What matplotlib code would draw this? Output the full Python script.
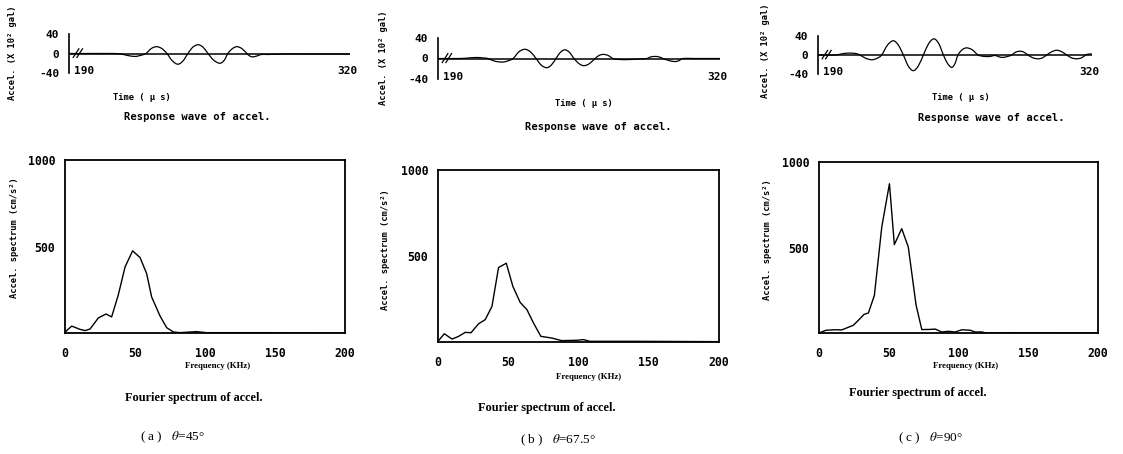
import matplotlib
matplotlib.use("Agg")
import matplotlib.pyplot as plt
from matplotlib.path import Path
from matplotlib.patches import PathPatch

W, H = 1123, 454

# ---------------- data ----------------
# response waves (time in us, accel in x10^2 gal)
wave_a_t = [190, 200, 210, 214, 217, 220.5, 223, 225.6, 228, 230.5, 233, 235.3, 237.8, 240.4,
            242.8, 245, 247.3, 249.7, 252, 254.3, 257, 259.8, 261.8, 263.5, 265.6, 267.7, 270,
            272.3, 273.6, 275, 277, 279, 282, 290, 300, 320]
wave_a_v = [0, 0, 0, -1, -4, -6, -4, 0, 10, 14, 10, 0, -15, -22,
            -15, 0, 13, 18, 13, 0, -14, -20, -14, 0, 10, 14, 10,
            0, -5, -7, -5, -2, -2, -1, -1, -1]

wave_b_t = [190, 200, 204, 207.8, 211, 213, 216, 219.4, 222, 224.6, 227.3, 230, 232.6, 235.2,
            237.6, 240.1, 242.2, 244.4, 246.4, 248.5, 250.6, 252.7, 255, 257.3, 259.8, 262.4,
            264.3, 266.2, 268.4, 270.7, 274, 278.5, 283, 286.2, 288, 290, 292, 293.7, 296.5,
            299.3, 301.2, 303, 308, 320]
wave_b_v = [0, 0, 1, 2, 1, 0, -5, -7, -5, 0, 13, 18, 13, 0,
            -13, -18, -13, 0, 12, 17, 12, 0, -10, -14, -10, 0,
            6, 8, 6, 0, -2, -2, -1, 0, 3, 4, 3, 0, -4,
            -6, -4, 0, 0, 0]

wave_c_t = [190, 198, 202, 205.2, 208, 209.9, 212.7, 215.5, 218, 220.2, 223, 225.7, 228.1, 230.5,
            232.8, 235.2, 237.6, 240, 242.5, 245, 247.3, 249.5, 251.5, 253.4, 255, 256.4, 258.4,
            260.5, 263.2, 266, 269, 271.6, 274, 276, 277.8, 280, 281.9, 283.8, 285.8, 287.7,
            289.6, 292, 294.4, 296.5, 298.5, 301, 303.3, 305.6, 308, 310.3, 312.7, 315, 317,
            318.5, 320]
wave_c_v = [0, 0, 3, 4, 3, 0, -7, -10, -7, 0, 21, 30, 21, 0,
            -23, -33, -23, 0, 24, 34, 24, 0, -18, -26, -18, 0, 11,
            15, 11, 0, -3, -3, -1, -4, -5, -3, 0, 6, 8, 6,
            0, -6, -8, -6, 0, 7, 10, 7, 0, -6, -8, -6, 0,
            2, 2]

# Fourier spectra (frequency KHz, spectrum cm/s2)
spec_a_f = [0, 4.8, 10.7, 14.3, 17.9, 23.8, 29.3, 33.3, 38, 42.9, 48.3, 53.6, 58.3, 61.9,
            67.9, 72.6, 77.4, 82, 94, 101, 144, 200]
spec_a_v = [5, 40, 21, 14, 23, 87, 110, 93, 218, 382, 475, 436, 344, 208,
            98, 31, 6, 2, 8, 2, 2, 0]

spec_b_f = [0, 4.5, 10, 14.7, 19.4, 23.5, 28.9, 33.6, 38.4, 43.1, 48.6, 53.3, 58.5, 63.3,
            68, 73.2, 81, 88, 98.8, 103.6, 108, 141.5, 200]
spec_b_v = [4, 48, 17, 33, 56, 54, 106, 130, 207, 433, 458, 323, 230, 188,
            110, 33, 23, 8, 10, 14, 4, 4, 2]

spec_c_f = [0, 5, 11.5, 16.3, 24.6, 29.4, 32.3, 35.4, 39.7, 45, 50.5, 54, 59.3, 64,
            69.6, 73.7, 79.7, 83.3, 88, 92.8, 97.6, 102.4, 108.4, 112, 116.7, 120, 134.7, 200]
spec_c_v = [0, 16, 19, 18, 45, 84, 109, 117, 220, 620, 873, 517, 610, 503,
            162, 20, 21, 23, 6, 10, 6, 19, 16, 6, 6, 0, 2, 0]

wave_ticks = [-40, 0, 40]
time_ticks = [190, 320]
spec_yticks = [500, 1000]
spec_xticks = [0, 50, 100, 150, 200]
panel_ids = ["a", "b", "c"]
panel_angles = ["45", "67.5", "90"]

# ---------------- layout ----------------
plt.rcParams["mathtext.fontset"] = "stix"
fig = plt.figure(figsize=(W / 100, H / 100), dpi=100)
fig.patch.set_facecolor("white")

MONO = "DejaVu Sans Mono"
SERIF = "Liberation Serif"


def axes_px(l, t, r, b):
    return fig.add_axes([l / W, 1 - b / H, (r - l) / W, (b - t) / H])


def ftext(x, y, s, **kw):
    fig.text(x / W, 1 - y / H, s, **kw)


def smooth_line(ax, xs, ys, **kw):
    """Draw a smooth curve passing through every data point (Catmull-Rom rendered as Bezier)."""
    n = len(xs)
    verts = [(xs[0], ys[0])]
    codes = [Path.MOVETO]
    for i in range(n - 1):
        x0, y0 = (xs[i - 1], ys[i - 1]) if i > 0 else (xs[i], ys[i])
        x1, y1 = xs[i], ys[i]
        x2, y2 = xs[i + 1], ys[i + 1]
        x3, y3 = (xs[i + 2], ys[i + 2]) if i + 2 < n else (x2, y2)
        c1 = (x1 + (x2 - x0) / 6.0, y1 + (y2 - y0) / 6.0)
        c2 = (x2 - (x3 - x1) / 6.0, y2 - (y3 - y1) / 6.0)
        verts += [c1, c2, (x2, y2)]
        codes += [Path.CURVE4] * 3
    ax.add_patch(PathPatch(Path(verts, codes), fill=False, transform=ax.transData, **kw))


panels = [
    dict(top=(69, 34, 350, 73), bot=(65, 160, 345, 333),
         wt=wave_a_t, wv=wave_a_v, sf=spec_a_f, sv=spec_a_v,
         ylab_top=(13, 53), time=(142, 98), resp=(197, 117),
         ylab_bot=(15, 238), freq=(218, 366), four=(194, 398), cap=(172, 437)),
    dict(top=(438, 38, 720, 79), bot=(438, 170, 719, 342),
         wt=wave_b_t, wv=wave_b_v, sf=spec_b_f, sv=spec_b_v,
         ylab_top=(383, 58), time=(584, 103), resp=(598, 127),
         ylab_bot=(386, 250), freq=(589, 377), four=(547, 408), cap=(558, 440)),
    dict(top=(818, 36, 1092, 74), bot=(819, 162, 1098, 333),
         wt=wave_c_t, wv=wave_c_v, sf=spec_c_f, sv=spec_c_v,
         ylab_top=(765, 51), time=(961, 97), resp=(991, 118),
         ylab_bot=(767, 240), freq=(966, 366), four=(918, 393), cap=(930, 438)),
]

for p, pid, ang in zip(panels, panel_ids, panel_angles):
    l, t, r, b = p["top"]
    # ---- response wave ----
    ax = axes_px(l, t, r, b)
    smooth_line(ax, p["wt"], p["wv"], color="black", lw=0.9)
    ax.axhline(0, color="black", lw=1.1)
    ax.set_xlim(190, 320)
    ax.set_ylim(-40, 40)
    for s in ["top", "right", "bottom"]:
        ax.spines[s].set_visible(False)
    ax.spines["left"].set_linewidth(1.2)
    ax.set_yticks(wave_ticks)
    ax.set_yticklabels([str(v) for v in wave_ticks], family=MONO, fontweight="bold", fontsize=8)
    ax.tick_params(axis="y", length=0, pad=7)
    ax.set_xticks([])
    # start / end time labels
    ftext(l + 5, b - 2, str(time_ticks[0]), ha="left", va="center",
          family=MONO, fontweight="bold", fontsize=8)
    ftext(r - 3, b - 2, str(time_ticks[1]), ha="center", va="center",
          family=MONO, fontweight="bold", fontsize=8)
    # axis break mark
    for dx in (0.025, 0.038):
        ax.plot([dx - 0.01, dx + 0.01], [0.4, 0.62], transform=ax.transAxes,
                color="black", lw=0.9, clip_on=False)
    ax.patch.set_alpha(0)

    ftext(*p["ylab_top"], "Accel. (X 10\u00b2 gal)", rotation=90, ha="center", va="center",
          family=MONO, fontweight="bold", fontsize=6.3)
    ftext(*p["time"], "Time ( \u03bc s)", ha="center", va="center",
          family=MONO, fontweight="bold", fontsize=6.3)
    ftext(*p["resp"], "Response wave of accel.", ha="center", va="center",
          family=MONO, fontweight="bold", fontsize=7.6)

    # ---- spectrum ----
    bx = axes_px(*p["bot"])
    bx.plot(p["sf"], p["sv"], color="black", lw=1.0)
    bx.set_xlim(0, 200)
    bx.set_ylim(0, 1000)
    for s in bx.spines.values():
        s.set_linewidth(1.3)
    bx.set_yticks(spec_yticks)
    bx.set_yticklabels([str(v) for v in spec_yticks], family=MONO, fontweight="bold", fontsize=8.3)
    bx.set_xticks(spec_xticks)
    bx.set_xticklabels([str(v) for v in spec_xticks], family=MONO, fontweight="bold", fontsize=8.3)
    bx.tick_params(axis="y", length=0, pad=7)
    bx.tick_params(axis="x", length=0, pad=10)

    ftext(*p["ylab_bot"], "Accel. spectrum (cm/s\u00b2)", rotation=90, ha="center", va="center",
          family=MONO, fontweight="bold", fontsize=6.3)
    ftext(*p["freq"], "Frequency (KHz)", ha="center", va="center",
          family=SERIF, fontweight="bold", fontsize=6.3)
    ftext(*p["four"], "Fourier spectrum of accel.", ha="center", va="center",
          family=SERIF, fontweight="bold", fontsize=8.8)

    cap = "( %s )   $\\theta$=%s\u00b0" % (pid, ang)
    ftext(*p["cap"], cap, ha="center", va="center", family=SERIF, fontsize=9.5)

fig.savefig("out.png", dpi=100, facecolor="white")
